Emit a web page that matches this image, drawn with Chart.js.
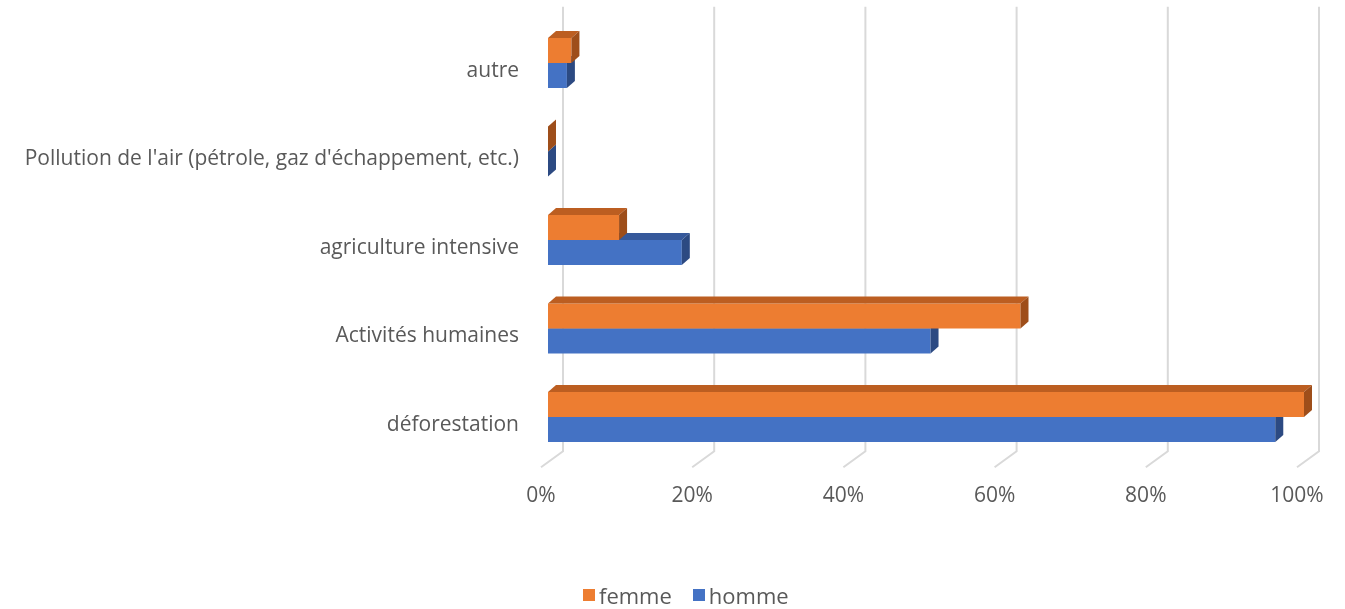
<!DOCTYPE html>
<html><head><meta charset="utf-8">
<script src="https://cdn.jsdelivr.net/npm/chart.js@4.4.0/dist/chart.umd.min.js"></script>
<style>
html,body{margin:0;padding:0;background:#fff;overflow:hidden}
#wrap{position:relative;width:1345px;height:609px}
#legend{position:absolute;left:583px;top:581px;display:flex;align-items:center;font:22px 'Open Sans', sans-serif;color:#595959;white-space:nowrap;line-height:28px}
.sw{display:inline-block;width:12px;height:12px;margin-right:4px}
.item{display:flex;align-items:center;margin-right:21px}
</style></head><body>
<div id="wrap"><canvas id="c" width="1345" height="609"></canvas><div id="legend"></div></div>
<script>
const categories = ["autre", "Pollution de l'air (pétrole, gaz d'échappement, etc.)", "agriculture intensive", "Activités humaines", "déforestation"];
const femme = [3.1, 0, 9.4, 62.5, 100];
const homme = [2.5, 0, 17.7, 50.6, 96.2];
const xTicks = [0, 20, 40, 60, 80, 100];
const seriesNames = ["femme", "homme"];

const FONT = {family: "'Open Sans', sans-serif", size: 21};
const TEXT = '#595959';
const DX = 8, DY = 7;

const bar3d = {
  id: 'bar3d',
  beforeDatasetsDraw(chart) {
    const xs = chart.scales.x, ctx = chart.ctx, a = chart.chartArea;
    ctx.save();
    ctx.strokeStyle = '#d9d9d9';
    ctx.lineWidth = 2;
    xs.ticks.forEach(t => {
      const xf = xs.getPixelForValue(t.value);
      ctx.beginPath();
      ctx.moveTo(xf + 15, a.top - 12);
      ctx.lineTo(xf + 15, a.bottom - 10);
      ctx.lineTo(xf - 7, a.bottom + 6);
      ctx.stroke();
    });
    ctx.restore();
  },
  afterDatasetDraw(chart, args) {
    const ds = chart.data.datasets[args.index];
    const ctx = chart.ctx;
    ctx.save();
    args.meta.data.forEach(el => {
      const p = el.getProps(['x', 'y', 'base', 'height'], true);
      const top = p.y - p.height / 2, bot = p.y + p.height / 2;
      ctx.fillStyle = ds.topColor;
      ctx.beginPath();
      ctx.moveTo(p.base, top);
      ctx.lineTo(p.base + DX, top - DY);
      ctx.lineTo(p.x + DX, top - DY);
      ctx.lineTo(p.x, top);
      ctx.closePath();
      ctx.fill();
      ctx.fillStyle = ds.sideColor;
      ctx.beginPath();
      ctx.moveTo(p.x, top);
      ctx.lineTo(p.x + DX, top - DY);
      ctx.lineTo(p.x + DX, bot - DY);
      ctx.lineTo(p.x, bot);
      ctx.closePath();
      ctx.fill();
    });
    ctx.restore();
  }
};

const zeroPad = s => { s.paddingTop = 0; s.paddingBottom = 0; s.paddingLeft = 0; s.paddingRight = 0; };

const chart = new Chart(document.getElementById('c'), {
  type: 'bar',
  data: {
    labels: categories,
    datasets: [
      {label: seriesNames[0], data: femme, backgroundColor: '#ED7D31', topColor: '#BC5E21', sideColor: '#9E4E1A', borderWidth: 0},
      {label: seriesNames[1], data: homme, backgroundColor: '#4472C4', topColor: '#36599B', sideColor: '#2C4A82', borderWidth: 0}
    ]
  },
  options: {
    indexAxis: 'y',
    responsive: false,
    animation: false,
    layout: {padding: {top: 18.75, right: 41, bottom: 0, left: 0}},
    datasets: {bar: {categoryPercentage: 0.565, barPercentage: 1}},
    plugins: {legend: {display: false}, tooltip: {enabled: false}},
    scales: {
      x: {
        min: 0, max: 100,
        grid: {display: false, drawTicks: false},
        border: {display: false},
        afterBuildTicks(s) { s.ticks = xTicks.map(v => ({value: v})); },
        ticks: {callback: v => v + '%', padding: 22, labelOffset: -7, font: FONT, color: TEXT, maxRotation: 0, autoSkip: false},
        afterFit(s) { s.height = 609 - 461.25; zeroPad(s); }
      },
      y: {
        grid: {display: false, drawTicks: false},
        border: {display: false},
        ticks: {padding: 29, labelOffset: 8, font: FONT, color: TEXT, autoSkip: false},
        afterFit(s) { s.width = 548; zeroPad(s); }
      }
    }
  },
  plugins: [bar3d]
});

const leg = document.getElementById('legend');
chart.data.datasets.forEach(ds => {
  const it = document.createElement('span');
  it.className = 'item';
  const sw = document.createElement('span');
  sw.className = 'sw';
  sw.style.background = ds.backgroundColor;
  const tx = document.createElement('span');
  tx.textContent = ds.label;
  it.appendChild(sw);
  it.appendChild(tx);
  leg.appendChild(it);
});
</script>
</body></html>
